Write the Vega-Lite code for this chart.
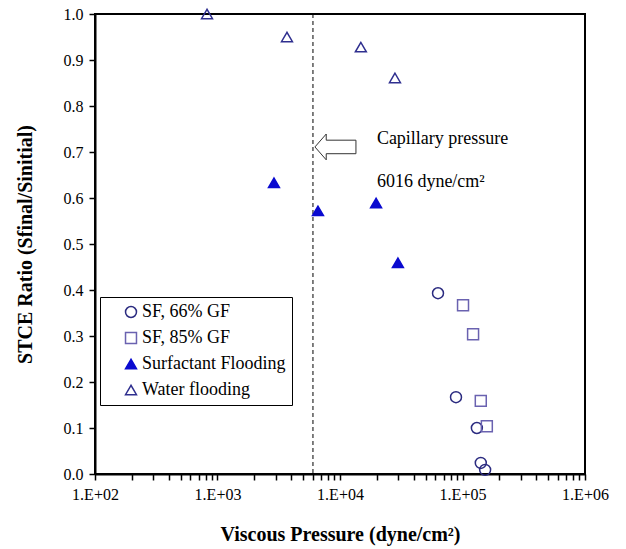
{
  "$schema": "https://vega.github.io/schema/vega-lite/v6.json",
  "width": 490,
  "height": 460,
  "autosize": {"type": "none"},
  "padding": {"left": 95, "top": 14, "right": 41, "bottom": 75},
  "background": "white",
  "config": {
    "font": "Liberation Serif",
    "view": {"stroke": "black", "strokeWidth": 2},
    "text": {"font": "Liberation Serif"},
    "legend": {"labelFont": "Liberation Serif", "titleFont": "Liberation Serif"},
    "axis": {
      "grid": false,
      "domainColor": "black",
      "domainWidth": 2,
      "tickColor": "black",
      "tickWidth": 1.5,
      "tickSize": 6,
      "labelColor": "black",
      "labelFont": "Liberation Serif",
      "labelFontSize": 16,
      "titleColor": "black",
      "titleFont": "Liberation Serif",
      "titleFontSize": 20,
      "titleFontWeight": "bold"
    }
  },
  "datasets": {
    "pts": [
      {"series": "Water flooding", "pressure": 821, "ratio": 1.0},
      {"series": "Water flooding", "pressure": 3690, "ratio": 0.95},
      {"series": "Water flooding", "pressure": 14800, "ratio": 0.928},
      {"series": "Water flooding", "pressure": 28100, "ratio": 0.861},
      {"series": "Surfactant Flooding", "pressure": 2890, "ratio": 0.633},
      {"series": "Surfactant Flooding", "pressure": 6610, "ratio": 0.572},
      {"series": "Surfactant Flooding", "pressure": 19700, "ratio": 0.589},
      {"series": "Surfactant Flooding", "pressure": 29700, "ratio": 0.459},
      {"series": "SF, 66% GF", "pressure": 63100, "ratio": 0.393},
      {"series": "SF, 66% GF", "pressure": 88500, "ratio": 0.167},
      {"series": "SF, 66% GF", "pressure": 131000, "ratio": 0.1},
      {"series": "SF, 66% GF", "pressure": 141000, "ratio": 0.024},
      {"series": "SF, 66% GF", "pressure": 153000, "ratio": 0.009},
      {"series": "SF, 85% GF", "pressure": 101000, "ratio": 0.367},
      {"series": "SF, 85% GF", "pressure": 122000, "ratio": 0.304},
      {"series": "SF, 85% GF", "pressure": 141000, "ratio": 0.159},
      {"series": "SF, 85% GF", "pressure": 158000, "ratio": 0.104}
    ],
    "capillary": [{"pressure": 6016}],
    "arrow": [{"pressure": 9180, "ratio": 0.711}],
    "notes": [
      {"pressure": 20000, "ratio": 0.728, "label": "Capillary pressure"},
      {"pressure": 20000, "ratio": 0.635, "label": "6016 dyne/cm²"}
    ]
  },
  "layer": [
    {
      "data": {"name": "capillary"},
      "mark": {"type": "rule", "color": "black", "strokeWidth": 1, "strokeDash": [4, 3]},
      "encoding": {
        "x": {"field": "pressure", "type": "quantitative", "scale": {"type": "log", "domain": [100, 1000000]}}
      }
    },
    {
      "data": {"name": "pts"},
      "mark": {"type": "point", "filled": false, "size": 120, "strokeWidth": 1.5, "opacity": 1},
      "encoding": {
        "x": {
          "field": "pressure",
          "type": "quantitative",
          "scale": {"type": "log", "domain": [100, 1000000]},
          "axis": {
            "values": [100, 200, 300, 400, 500, 600, 700, 800, 900, 1000, 2000, 3000, 4000, 5000, 6000, 7000, 8000, 9000, 10000, 20000, 30000, 40000, 50000, 60000, 70000, 80000, 90000, 100000, 200000, 300000, 400000, 500000, 600000, 700000, 800000, 900000, 1000000],
            "labelExpr": "abs(log(datum.value)/LN10 - round(log(datum.value)/LN10)) < 0.001 ? '1.E+0' + round(log(datum.value)/LN10) : ''",
            "labelOverlap": false,
            "labelFlush": false,
            "labelPadding": 6,
            "title": "Viscous Pressure (dyne/cm²)",
            "titlePadding": 22
          }
        },
        "y": {
          "field": "ratio",
          "type": "quantitative",
          "scale": {"domain": [0, 1], "nice": false, "zero": false},
          "axis": {
            "values": [0, 0.1, 0.2, 0.3, 0.4, 0.5, 0.6, 0.7, 0.8, 0.9, 1.0],
            "format": ".1f",
            "labelPadding": 6,
            "title": "STCE Ratio (Sfinal/Sinitial)",
            "titlePadding": 28
          }
        },
        "shape": {
          "field": "series",
          "type": "nominal",
          "scale": {
            "domain": ["SF, 66% GF", "SF, 85% GF", "Surfactant Flooding", "Water flooding"],
            "range": ["circle", "square", "triangle-up", "triangle-up"]
          },
          "legend": {
            "orient": "none",
            "legendX": 5,
            "legendY": 283,
            "title": null,
            "strokeColor": "black",
            "fillColor": "white",
            "padding": 6,
            "symbolOffset": 16,
            "labelFont": "Liberation Serif",
            "labelFontSize": 18,
            "labelColor": "black",
            "labelOffset": 2,
            "symbolSize": 120,
            "symbolStrokeWidth": 1.5,
            "rowPadding": 8
          }
        },
        "stroke": {
          "field": "series",
          "type": "nominal",
          "scale": {
            "domain": ["SF, 66% GF", "SF, 85% GF", "Surfactant Flooding", "Water flooding"],
            "range": ["#2b2b80", "#6a62b0", "#0a0ad0", "#2f2f8f"]
          }
        },
        "fill": {
          "field": "series",
          "type": "nominal",
          "scale": {
            "domain": ["SF, 66% GF", "SF, 85% GF", "Surfactant Flooding", "Water flooding"],
            "range": ["rgba(0,0,0,0)", "rgba(0,0,0,0)", "#0a0ad0", "rgba(0,0,0,0)"]
          }
        }
      }
    },
    {
      "data": {"name": "arrow"},
      "mark": {
        "type": "point",
        "shape": "M-1,0L-0.45,-0.63L-0.45,-0.33L1,-0.33L1,0.33L-0.45,0.33L-0.45,0.63Z",
        "size": 1681,
        "filled": true,
        "fill": "white",
        "stroke": "#333333",
        "strokeWidth": 1,
        "opacity": 1
      },
      "encoding": {
        "x": {"field": "pressure", "type": "quantitative"},
        "y": {"field": "ratio", "type": "quantitative"}
      }
    },
    {
      "data": {"name": "notes"},
      "mark": {"type": "text", "align": "left", "baseline": "middle", "font": "Liberation Serif", "fontSize": 18, "color": "black"},
      "encoding": {
        "x": {"field": "pressure", "type": "quantitative"},
        "y": {"field": "ratio", "type": "quantitative"},
        "text": {"field": "label"}
      }
    }
  ]
}
